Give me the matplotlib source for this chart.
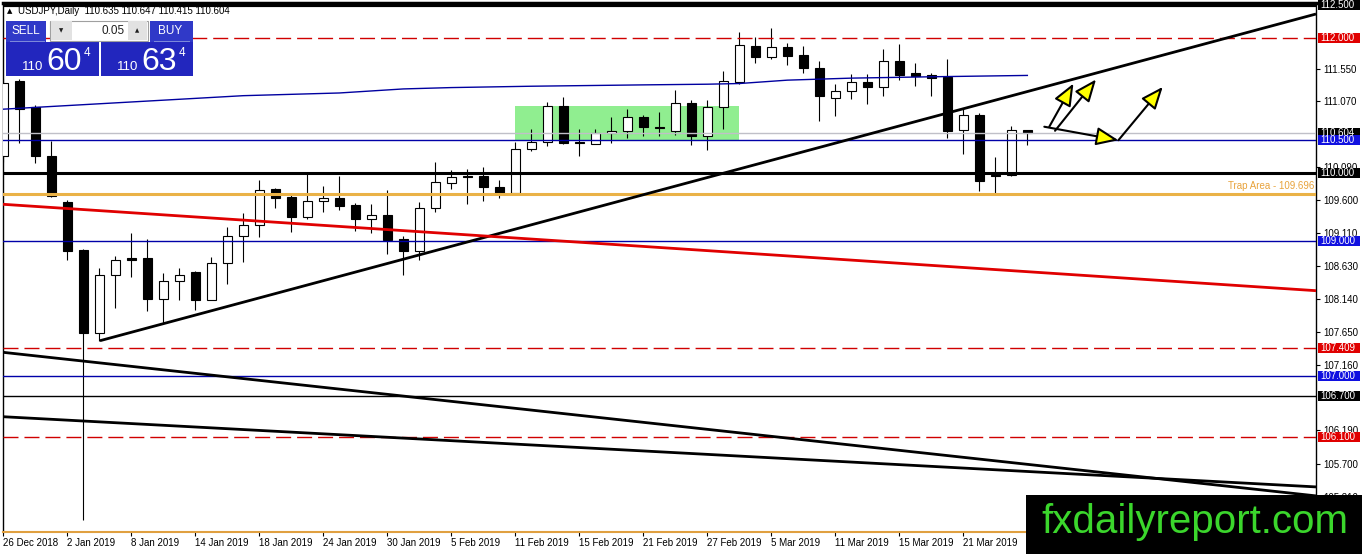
import matplotlib
matplotlib.use('Agg')
import matplotlib.pyplot as plt
from matplotlib.patches import Rectangle
from matplotlib.transforms import blended_transform_factory

plt.rcParams['font.family'] = ['Liberation Sans', 'DejaVu Sans']

# daily candles, 26 Dec 2018 .. 27 Mar 2019
opens = [110.25, 111.37, 110.98, 110.26, 109.57, 108.86, 107.64, 108.50, 108.74, 108.74,
         108.14, 108.40, 108.54, 108.13, 108.67, 109.07, 109.23, 109.77, 109.65, 109.36,
         109.59, 109.63, 109.53, 109.33, 109.38, 109.02, 108.85, 109.48, 109.86, 109.96,
         109.96, 109.79, 109.71, 110.36, 110.46, 111.00, 110.47, 110.44, 110.59, 110.62,
         110.83, 110.69, 110.63, 111.04, 110.56, 110.98, 111.36, 111.89, 111.73, 111.87,
         111.75, 111.56, 111.11, 111.22, 111.35, 111.28, 111.66, 111.48, 111.46, 111.42,
         110.64, 110.86, 109.98, 109.97, 110.635]
highs = [111.41, 111.40, 111.01, 110.48, 109.60, 108.88, 108.59, 108.77, 109.11, 109.03,
         108.52, 108.59, 108.55, 108.76, 109.21, 109.41, 109.90, 109.78, 109.68, 110.00,
         109.81, 109.96, 109.56, 109.55, 109.75, 109.07, 109.58, 110.17, 110.05, 110.06,
         110.09, 109.90, 110.47, 110.65, 111.06, 111.13, 110.65, 110.65, 110.83, 110.95,
         110.87, 110.91, 111.24, 111.09, 111.09, 111.51, 112.10, 112.02, 112.15, 111.93,
         111.88, 111.66, 111.32, 111.47, 111.47, 111.84, 111.91, 111.63, 111.48, 111.70,
         110.95, 110.90, 110.24, 110.70, 110.647]
lows = [110.17, 110.45, 110.15, 109.65, 108.71, 104.86, 107.52, 108.01, 108.46, 107.96,
        107.78, 108.13, 107.97, 108.12, 108.36, 108.68, 109.05, 109.48, 109.13, 109.32,
        109.42, 109.46, 109.15, 109.12, 108.81, 108.49, 108.72, 109.43, 109.77, 109.55,
        109.59, 109.64, 109.70, 110.33, 110.41, 110.44, 110.25, 110.44, 110.45, 110.53,
        110.56, 110.55, 110.57, 110.42, 110.35, 110.66, 111.32, 111.64, 111.70, 111.61,
        111.48, 110.78, 110.85, 111.10, 111.03, 111.15, 111.38, 111.30, 111.15, 110.53,
        110.29, 109.74, 109.71, 109.96, 110.415]
closes = [111.34, 110.96, 110.25, 109.66, 108.85, 107.64, 108.50, 108.71, 108.72, 108.14,
          108.40, 108.50, 108.13, 108.67, 109.07, 109.23, 109.76, 109.64, 109.36, 109.59,
          109.63, 109.52, 109.33, 109.38, 109.01, 108.85, 109.48, 109.87, 109.94, 109.94,
          109.79, 109.70, 110.36, 110.46, 111.00, 110.45, 110.45, 110.59, 110.63, 110.83,
          110.68, 110.67, 111.04, 110.56, 110.98, 111.37, 111.90, 111.73, 111.87, 111.74,
          111.56, 111.15, 111.22, 111.35, 111.28, 111.66, 111.46, 111.44, 111.41, 110.63,
          110.86, 109.89, 109.96, 110.64, 110.604]

date_labels = ['26 Dec 2018', '2 Jan 2019', '8 Jan 2019', '14 Jan 2019', '18 Jan 2019',
               '24 Jan 2019', '30 Jan 2019', '5 Feb 2019', '11 Feb 2019', '15 Feb 2019',
               '21 Feb 2019', '27 Feb 2019', '5 Mar 2019', '11 Mar 2019', '15 Mar 2019',
               '21 Mar 2019']

# moving average (navy line)
ma_bars = [0, 15, 21, 25, 28, 33, 40, 44, 46, 49, 53, 58, 64]
ma_values = [110.95, 111.15, 111.19, 111.25, 111.27, 111.29, 111.31, 111.32, 111.33,
             111.38, 111.41, 111.43, 111.45]

# horizontal levels
red_levels = [112.0, 107.409, 106.1]
blue_levels = [110.5, 109.0, 107.0]
black_levels = [112.5, 110.0, 106.7]
bid_price = 110.604
trap_level = 109.696

# trend lines: (bar, price) pairs
uptrend = [(6.04, 107.52), (82.04, 112.36)]
red_trend = [(-0.02, 109.541), (82.04, 108.261)]
low_trend_1 = [(-0.02, 107.348), (82.04, 105.221)]
low_trend_2 = [(-0.02, 106.394), (82.04, 105.354)]

# consolidation box (bars, prices)
zone_bars = (32, 46)
zone_prices = (110.49, 110.99)

# projection arrows: start -> tip
arrow_paths = [
    ((65.06, 110.69), (69.69, 110.49)),
    ((65.37, 110.69), (66.88, 111.33)),
    ((65.73, 110.63), (68.29, 111.39)),
    ((69.69, 110.49), (72.46, 111.28)),
]

y_ticks = [111.55, 111.07, 110.09, 109.60, 109.11, 108.63, 108.14,
           107.65, 107.16, 106.19, 105.70, 105.21]

W, H = 1362, 554
fig = plt.figure(figsize=(W / 100, H / 100), dpi=100)
ax = fig.add_axes([3 / W, 1 - 532 / H, 1313 / W, 529 / H])
ax.set_xlim(-0.02, 82.04)
ax.set_ylim(104.686, 112.523)

# zone
ax.add_patch(Rectangle((zone_bars[0], zone_prices[0]), zone_bars[1] - zone_bars[0],
                       zone_prices[1] - zone_prices[0], fc='#90EE90', ec='none', zorder=0.5))

# candles
n = len(opens)
xs = list(range(n))
ax.vlines(xs, lows, highs, color='black', lw=0.8, zorder=3)
for i in xs:
    o, c = opens[i], closes[i]
    fill = 'white' if c >= o else 'black'
    ax.bar(i, max(abs(c - o), 0.005), bottom=min(o, c), width=0.6, color=fill,
           edgecolor='black', linewidth=0.8, zorder=3.2)

dash = (10.8, 4.3)
for p in red_levels:
    ax.axhline(p, color='#D00000', lw=1, dashes=dash, zorder=4)
for p in blue_levels:
    ax.axhline(p, color='#0000A8', lw=1, zorder=4)
ax.axhline(bid_price, color='#C0C0C8', lw=1, zorder=3.9)
ax.axhline(black_levels[0], color='black', lw=3, zorder=4)
ax.axhline(black_levels[1], color='black', lw=2.2, zorder=4)
ax.axhline(black_levels[2], color='black', lw=1, zorder=4)
ax.axhline(trap_level, color='#EAB247', lw=2.2, zorder=4)

for seg, col in [(uptrend, 'black'), (red_trend, '#E00000'),
                 (low_trend_1, 'black'), (low_trend_2, 'black')]:
    ax.plot([seg[0][0], seg[1][0]], [seg[0][1], seg[1][1]], color=col, lw=2, zorder=4,
            solid_capstyle='butt')

ax.plot(ma_bars, ma_values, color='#0000A0', lw=1, zorder=4)

for start, tip in arrow_paths:
    ax.annotate('', xy=tip, xytext=start, zorder=5,
                arrowprops=dict(arrowstyle='-|>,head_length=0.8,head_width=0.33',
                                fc='#FFFF00', ec='black', lw=1.5, mutation_scale=17,
                                shrinkA=0, shrinkB=0))

trans = blended_transform_factory(ax.transAxes, ax.transData)
ax.text(1 - 2 / 1313, trap_level + 0.035, 'Trap Area - 109.696', transform=trans,
        ha='right', va='bottom', color='#E8A33C', fontsize=7, zorder=5)

# axes styling
ax.yaxis.tick_right()
ax.set_yticks(y_ticks)
ax.set_yticklabels(['%.3f' % t for t in y_ticks])
ax.tick_params(axis='y', direction='out', length=3, width=0.8, pad=2, labelsize=7)
ax.set_xticks(xs[::4][:len(date_labels)])
ax.set_xticklabels(date_labels)
for lab in ax.get_xticklabels():
    lab.set_ha('left')
ax.tick_params(axis='x', direction='out', length=3, width=0.8, pad=1.5, labelsize=7)
for side in ['left', 'right']:
    ax.spines[side].set_color('black')
    ax.spines[side].set_linewidth(1)
ax.spines['top'].set_color('black')
ax.spines['top'].set_linewidth(2.5)
ax.spines['bottom'].set_color('#E0A040')
ax.spines['bottom'].set_linewidth(1.5)

# price labels on the right axis
box_h = 10 / 67.5
box_w = 42 / 1313
price_boxes = [(bid_price, 'black'), (112.5, 'black'), (112.0, '#E00000'), (110.5, '#1010E0'),
               (110.0, 'black'), (109.0, '#1010E0'), (107.409, '#E00000'), (107.0, '#1010E0'),
               (106.7, 'black'), (106.1, '#E00000')]
for k, (p, col) in enumerate(price_boxes):
    ax.add_patch(Rectangle((1.0015, p - box_h / 2), box_w, box_h, transform=trans,
                           fc=col, ec='none', clip_on=False, zorder=6 + k * 0.01))
    ax.text(1.0035, p, '%.3f' % p, transform=trans, ha='left', va='center',
            color='white', fontsize=7, clip_on=False, zorder=6.005 + k * 0.01)


def px_rect(x0, y0, x1, y1, **kw):
    fig.add_artist(Rectangle((x0 / W, 1 - y1 / H), (x1 - x0) / W, (y1 - y0) / H,
                             transform=fig.transFigure, **kw))


def px_text(x, y, s, **kw):
    fig.text(x / W, 1 - y / H, s, **kw)


# header and trade panel
px_text(7, 11, '▲', fontsize=5, va='center', family=['DejaVu Sans'])
px_text(18, 11, 'USDJPY,Daily  110.635 110.647 110.415 110.604', fontsize=7, va='center')

blue = '#2226BE'
px_rect(6, 20.5, 46, 42, fc='#3039C8', ec='none')
px_rect(150, 20.5, 192.7, 42, fc='#3039C8', ec='none')
px_rect(10, 41.3, 45, 42.2, fc='#7C88DA', ec='none')
px_rect(154, 41.3, 190, 42.2, fc='#7C88DA', ec='none')
px_rect(6, 42.2, 99.3, 76, fc=blue, ec='none')
px_rect(101, 42.2, 192.7, 76, fc=blue, ec='none')
px_rect(50, 20.5, 148, 41, fc='white', ec='#A0A0A0', lw=0.8)
px_rect(51, 21.5, 72, 40, fc='#E2E2E2', ec='none')
px_rect(128, 21.5, 147, 40, fc='#E2E2E2', ec='none')
px_text(61.5, 30.5, '▼', fontsize=4, ha='center', va='center', color='#202020',
        family=['DejaVu Sans'])
px_text(137.5, 30.5, '▲', fontsize=4, ha='center', va='center', color='#202020',
        family=['DejaVu Sans'])
px_text(125, 30.5, '0.05', fontsize=8.5, ha='right', va='center', color='#202020')
px_text(26, 31.5, 'SELL', fontsize=8.5, ha='center', va='center', color='white')
px_text(170, 31.5, 'BUY', fontsize=8.5, ha='center', va='center', color='white')

for x0, big in [(21.7, '60'), (116.7, '63')]:
    px_text(x0, 70.5, '110', fontsize=9.5, va='baseline', color='white')
    px_text(x0 + 24.5, 70.5, big, fontsize=23, va='baseline', color='white')
    px_text(x0 + 61.5, 56, '4', fontsize=8.5, va='baseline', color='white')

# watermark
px_rect(1026, 495, 1362, 554, fc='black', ec='none')
px_text(1041, 533, 'fxdailyreport.com', fontsize=29, va='baseline', color='#3BD62C')

fig.savefig('out.png', dpi=100)
